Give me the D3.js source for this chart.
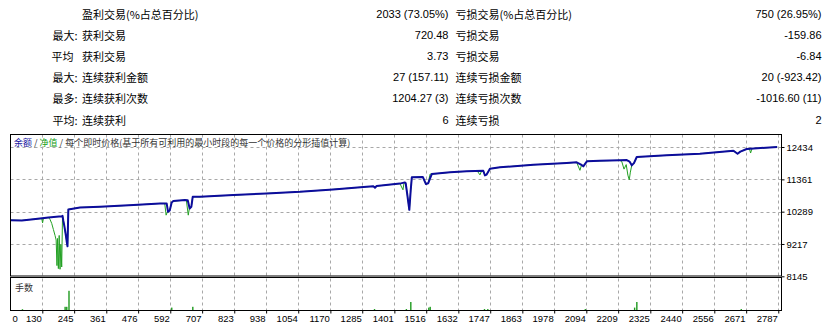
<!DOCTYPE html>
<html>
<head>
<meta charset="utf-8">
<script src="https://d3js.org/d3.v7.min.js"></script>
<style>
  body { margin: 0; background: #fff; }
  .num { font-family: 'Liberation Sans', Arial, sans-serif; }
  .cn { font-family: 'Noto Sans CJK SC', sans-serif; }
</style>
</head>
<body>
<div id="chart"></div>
<script>
'use strict';

// stats table
var statPrefix = ['', '最大:', '平均', '最大:', '最多:', '平均:'];
var winLabels = ['盈利交易(%占总百分比)', '获利交易', '获利交易', '连续获利金额', '连续获利次数', '连续获利'];
var winValues = ['2033 (73.05%)', '720.48', '3.73', '27 (157.11)', '1204.27 (3)', '6'];
var lossLabels = ['亏损交易(%占总百分比)', '亏损交易', '亏损交易', '连续亏损金额', '连续亏损次数', '连续亏损'];
var lossValues = ['750 (26.95%)', '-159.86', '-6.84', '20 (-923.42)', '-1016.60 (11)', '2'];

// axis labels
var xTicks = [0, 130, 245, 361, 476, 592, 707, 823, 938, 1054, 1170, 1285, 1401, 1516, 1632, 1747, 1863, 1978, 2094, 2209, 2325, 2440, 2556, 2671, 2787];
var yTicks = [12434, 11361, 10289, 9217, 8145];

// balance curve (trade #, value)
var balanceTrades = [0, 16, 56, 98, 152, 200, 203, 206, 209, 212, 215, 218, 221, 224, 266, 338, 459, 555, 579, 584,
  590, 597, 603, 645, 655, 662, 668, 673, 699, 820, 940, 1060, 1180, 1301, 1325, 1331, 1337, 1421, 1439, 1442,
  1447, 1452, 1455, 1460, 1464, 1504, 1515, 1523, 1536, 1602, 1662, 1722, 1728, 1734, 1746, 1782, 1903, 2023, 2059, 2075,
  2083, 2096, 2143, 2215, 2240, 2250, 2258, 2266, 2276, 2384, 2504, 2625, 2640, 2650, 2673, 2783];
var balanceValues = [10000, 10007, 9997, 10040, 10097, 10140, 10150, 9980, 9841, 9674, 9500, 9300, 9140, 10364, 10429, 10449, 10506, 10562, 10560, 10283,
  10330, 10595, 10640, 10672, 10670, 10396, 10450, 10782, 10782, 10838, 10895, 10948, 11028, 11114, 11130, 11085, 11140, 11220, 11260, 11230,
  10900, 10550, 10349, 11000, 11427, 11437, 11204, 11230, 11536, 11593, 11626, 11646, 11493, 11520, 11713, 11759, 11846, 11902, 11925, 11850,
  11793, 11959, 11975, 11992, 12000, 11950, 11826, 11900, 12102, 12158, 12211, 12311, 12211, 12280, 12368, 12434];

// equity curve (trade #, value)
var equityTrades = [0, 16, 56, 98, 128, 131, 134, 152, 158, 164, 170, 176, 180, 183, 185, 188, 191, 194, 197, 200,
  203, 206, 209, 212, 215, 218, 221, 224, 266, 338, 459, 555, 572, 577, 582, 590, 597, 603, 645, 650,
  657, 661, 668, 673, 699, 820, 940, 1060, 1180, 1301, 1325, 1331, 1337, 1421, 1432, 1436, 1442, 1447, 1452, 1455,
  1460, 1464, 1504, 1515, 1523, 1530, 1536, 1602, 1662, 1700, 1710, 1716, 1722, 1728, 1734, 1746, 1782, 1903, 2023, 2059,
  2071, 2077, 2083, 2096, 2143, 2215, 2222, 2230, 2238, 2244, 2249, 2253, 2258, 2266, 2276, 2384, 2504, 2625, 2632, 2640,
  2650, 2673, 2683, 2687, 2692, 2783];
var equityValues = [10000, 10007, 9997, 10040, 10060, 9917, 10065, 10097, 10030, 9900, 9700, 9500, 9350, 8500, 9400, 8400, 9500, 8378, 9200, 8454,
  10150, 9980, 9841, 9674, 9500, 9300, 9140, 10364, 10429, 10449, 10506, 10562, 10562, 10173, 10290, 10330, 10595, 10640, 10672, 10672,
  10173, 10396, 10450, 10782, 10782, 10838, 10895, 10948, 11028, 11114, 11130, 11085, 11140, 11220, 11014, 11250, 11230, 10900, 10550, 10349,
  11000, 11427, 11437, 11204, 11230, 11536, 11536, 11593, 11626, 11640, 11510, 11640, 11646, 11493, 11520, 11713, 11759, 11846, 11902, 11925,
  11660, 11850, 11793, 11959, 11975, 11992, 11950, 11700, 11850, 11500, 11347, 11600, 11826, 11900, 12102, 12158, 12211, 12311, 12280, 12211,
  12280, 12368, 12370, 12234, 12380, 12434];

// lots
var lotTrades = [58, 212, 218, 226, 597, 673, 1329, 1444, 1460, 1525, 1530, 1726, 1738, 2090, 2268, 2276, 2653];
var lotValues = [0.05, 0.2, 0.2, 1.2, 0.15, 0.2, 0.06, 0.06, 0.5, 0.15, 0.2, 0.06, 0.06, 0.06, 0.15, 0.5, 0.06];

var width = 836, height = 331;
var frame = {left: 10.5, right: 781.5, top: 134.5, bottom: 276};
var vol = {top: 277.5, bottom: 310.5};
var gridColor = '#a8a8a8';

var svg = d3.select('#chart').append('svg')
  .attr('width', width)
  .attr('height', height);

/* stats rows */
var rows = svg.append('g').selectAll('g')
  .data(statPrefix)
  .enter()
  .append('g')
  .attr('transform', function(d, i) { return 'translate(0,' + (13.8 + i * 21.15) + ')'; });

rows.append('text')
  .attr('class', 'cn')
  .attr('x', function(d) { return d.slice(-1) === ':' ? 77.5 : 73.5; })
  .attr('text-anchor', 'end')
  .attr('dominant-baseline', 'central')
  .style('font-size', '11px')
  .text(function(d) { return d; });
rows.append('text')
  .attr('class', 'cn')
  .attr('x', 82)
  .attr('dominant-baseline', 'central')
  .style('font-size', '11px')
  .text(function(d, i) { return winLabels[i]; });
rows.append('text')
  .attr('class', 'num')
  .attr('x', 448.5)
  .attr('text-anchor', 'end')
  .attr('dominant-baseline', 'central')
  .style('font-size', '11px')
  .text(function(d, i) { return winValues[i]; });
rows.append('text')
  .attr('class', 'cn')
  .attr('x', 455.5)
  .attr('dominant-baseline', 'central')
  .style('font-size', '11px')
  .text(function(d, i) { return lossLabels[i]; });
rows.append('text')
  .attr('class', 'num')
  .attr('x', 821.5)
  .attr('text-anchor', 'end')
  .attr('dominant-baseline', 'central')
  .style('font-size', '11px')
  .text(function(d, i) { return lossValues[i]; });

/* scales */
var x = d3.scaleLinear().domain([0, 2800]).range([6.29, 6.29 + 2800 * 0.277]);
var y = d3.scaleLinear().domain([8145, 12434]).range([276.3, 147]);
var yVol = d3.scaleLinear().domain([0, 2]).range([310, 278]);

svg.append('clipPath').attr('id', 'clipMain')
  .append('rect')
  .attr('x', frame.left).attr('y', frame.top)
  .attr('width', frame.right - frame.left).attr('height', frame.bottom - frame.top);

/* grid */
var grid = svg.append('g');
grid.selectAll('line.vgrid')
  .data(xTicks.slice(1))
  .enter()
  .append('line')
  .attr('class', 'vgrid')
  .attr('x1', function(d) { return Math.round(x(d)) + 0.5; })
  .attr('x2', function(d) { return Math.round(x(d)) + 0.5; })
  .attr('y1', frame.top)
  .attr('y2', vol.bottom)
  .attr('stroke', gridColor)
  .attr('stroke-width', 1)
  .attr('stroke-dasharray', '3,3');
grid.selectAll('line.hgrid')
  .data(yTicks.slice(0, -1))
  .enter()
  .append('line')
  .attr('class', 'hgrid')
  .attr('x1', frame.left)
  .attr('x2', frame.right)
  .attr('y1', function(d) { return Math.round(y(d)) + 0.5; })
  .attr('y2', function(d) { return Math.round(y(d)) + 0.5; })
  .attr('stroke', gridColor)
  .attr('stroke-width', 1)
  .attr('stroke-dasharray', '3,3');

/* curves */
var line = d3.line()
  .x(function(d) { return x(d[0]); })
  .y(function(d) { return y(d[1]); });

var plot = svg.append('g').attr('clip-path', 'url(#clipMain)');
plot.append('path')
  .datum(d3.zip(equityTrades, equityValues))
  .attr('d', line)
  .attr('fill', 'none')
  .attr('stroke', '#23a023')
  .attr('stroke-width', 1);
plot.append('path')
  .datum(d3.zip(balanceTrades, balanceValues))
  .attr('d', line)
  .attr('fill', 'none')
  .attr('stroke', '#0c0c9c')
  .attr('stroke-width', 2)
  .attr('stroke-linejoin', 'round');

/* lots bars */
svg.append('g').selectAll('rect')
  .data(d3.zip(lotTrades, lotValues))
  .enter()
  .append('rect')
  .attr('x', function(d) { return x(d[0]) - 0.6; })
  .attr('width', 1.4)
  .attr('y', function(d) { return yVol(d[1]); })
  .attr('height', function(d) { return yVol(0) - yVol(d[1]); })
  .attr('fill', '#1f9a1f');

/* frames */
svg.append('rect')
  .attr('x', frame.left).attr('y', frame.top)
  .attr('width', frame.right - frame.left).attr('height', frame.bottom - frame.top)
  .attr('fill', 'none').attr('stroke', '#000');
svg.append('rect')
  .attr('x', frame.left).attr('y', vol.top)
  .attr('width', frame.right - frame.left).attr('height', vol.bottom - vol.top)
  .attr('fill', 'none').attr('stroke', '#000');

/* legend */
var legend = svg.append('text')
  .attr('class', 'cn')
  .attr('x', 14)
  .attr('y', 142)
  .attr('dominant-baseline', 'central')
  .style('font-size', '9px')
  .attr('fill', '#333');
legend.append('tspan').attr('fill', '#1414a0').text('余额');
legend.append('tspan').text(' / ');
legend.append('tspan').attr('fill', '#20a020').text('净值');
legend.append('tspan').text(' / 每个即时价格(基于所有可利用的最小时段的每一个价格的分形插值计算)');

svg.append('text')
  .attr('class', 'cn')
  .attr('x', 15)
  .attr('y', 287)
  .attr('dominant-baseline', 'central')
  .style('font-size', '9px')
  .attr('fill', '#333')
  .text('手数');

/* right axis */
var yAxis = svg.append('g')
  .attr('class', 'num')
  .attr('transform', 'translate(' + frame.right + ',0)')
  .call(d3.axisRight(y).tickValues(yTicks).tickSize(3).tickPadding(2).tickFormat(d3.format('d')));
yAxis.select('.domain').remove();
yAxis.selectAll('text').style('font-size', '9.5px').style('font-family', "'Liberation Sans', Arial, sans-serif").attr('fill', '#000');
yAxis.selectAll('line').attr('stroke', '#000');

/* bottom axis */
var xAxis = svg.append('g')
  .attr('transform', 'translate(0,' + vol.bottom + ')')
  .call(d3.axisBottom(x).tickValues(xTicks).tickSize(3).tickPadding(2).tickFormat(d3.format('d')));
xAxis.select('.domain').remove();
xAxis.selectAll('line').attr('stroke', '#000');
xAxis.selectAll('text')
  .style('font-size', '9.5px')
  .style('font-family', "'Liberation Sans', Arial, sans-serif")
  .attr('fill', '#000')
  .attr('text-anchor', 'end')
  .attr('x', -1);
xAxis.selectAll('.tick')
  .filter(function(d) { return d === 0; })
  .each(function() {
    d3.select(this).select('line').remove();
    d3.select(this).select('text')
      .attr('text-anchor', 'start')
      .attr('x', 12 - x(0));
  });
</script>
</body>
</html>
